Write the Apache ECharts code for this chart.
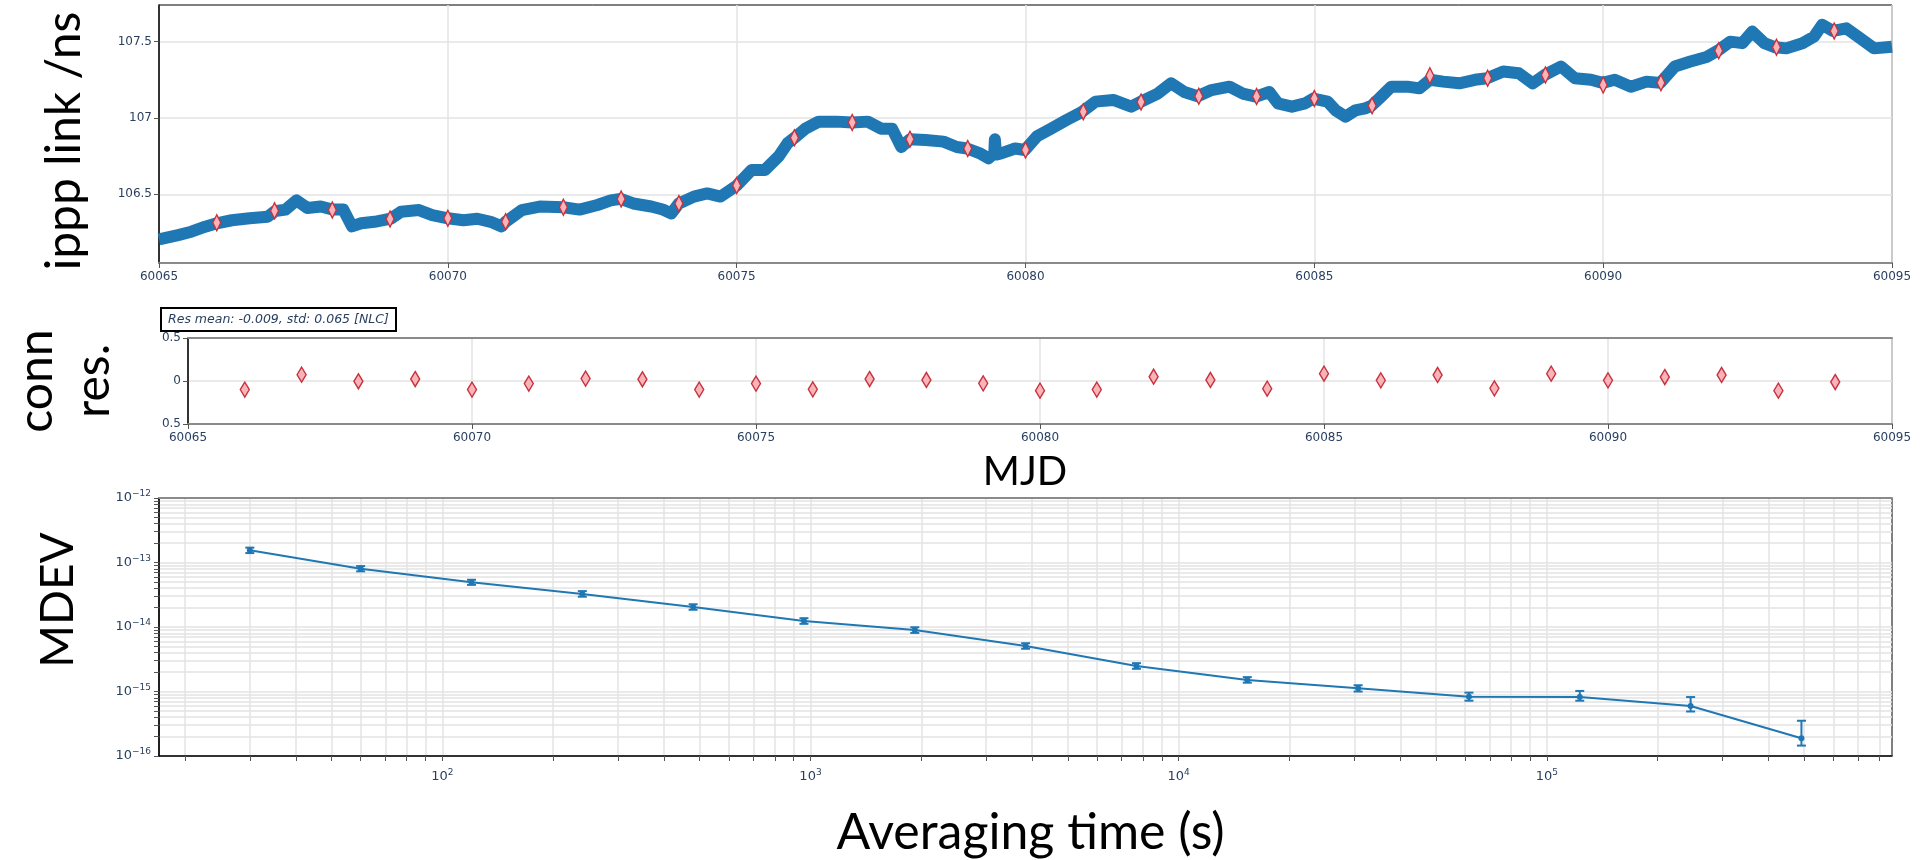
<!DOCTYPE html>
<html>
<head>
<meta charset="utf-8">
<script src="https://cdn.jsdelivr.net/npm/echarts@6/dist/echarts.min.js"></script>
<style>
html,body{margin:0;padding:0;background:#fff;}
#chart{width:1926px;height:860px;}
</style>
</head>
<body>
<div id="chart"></div>
<script>
// ---- link delay trace (MJD, ns) ----
const linkMjd = [60065.00,60065.33,60065.56,60065.80,60066.00,60066.26,60066.57,60066.88,60067.01,60067.19,60067.38,60067.57,60067.80,60068.00,60068.19,60068.34,60068.50,60068.73,60069.01,60069.19,60069.50,60069.73,60070.00,60070.27,60070.51,60070.74,60070.93,60071.00,60071.28,60071.59,60072.00,60072.28,60072.59,60072.82,60072.99,60073.21,60073.52,60073.72,60073.87,60074.00,60074.26,60074.49,60074.72,60075.00,60075.26,60075.49,60075.73,60075.88,60076.00,60076.19,60076.42,60076.73,60077.00,60077.27,60077.50,60077.69,60077.85,60078.00,60078.27,60078.58,60078.81,60078.99,60079.20,60079.36,60079.46,60079.47,60079.49,60079.59,60079.82,60079.99,60080.20,60080.44,60080.71,60080.98,60081.21,60081.52,60081.83,60081.99,60082.29,60082.52,60082.75,60082.98,60083.22,60083.53,60083.76,60083.99,60084.22,60084.37,60084.61,60084.84,60084.98,60085.23,60085.37,60085.54,60085.71,60085.88,60085.99,60086.13,60086.33,60086.61,60086.82,60087.00,60087.23,60087.51,60087.78,60087.99,60088.27,60088.54,60088.78,60088.99,60089.27,60089.51,60089.79,60089.99,60090.20,60090.48,60090.75,60090.99,60091.24,60091.51,60091.79,60091.98,60092.20,60092.41,60092.58,60092.79,60092.98,60093.17,60093.45,60093.65,60093.79,60093.98,60094.21,60094.41,60094.69,60095.00];
const linkNs = [106.205,106.233,106.255,106.288,106.31,106.33,106.343,106.353,106.39,106.40,106.46,106.41,106.42,106.40,106.40,106.29,106.31,106.32,106.34,106.386,106.397,106.364,106.343,106.33,106.34,106.32,106.29,106.32,106.397,106.42,106.415,106.40,106.43,106.46,106.47,106.44,106.42,106.40,106.375,106.44,106.485,106.506,106.485,106.557,106.66,106.66,106.75,106.834,106.87,106.93,106.976,106.976,106.97,106.976,106.93,106.93,106.81,106.86,106.856,106.845,106.81,106.80,106.77,106.736,106.77,106.86,106.76,106.77,106.80,106.79,106.88,106.93,106.987,107.04,107.107,107.118,107.074,107.105,107.16,107.227,107.17,107.142,107.183,107.205,107.16,107.14,107.17,107.096,107.074,107.096,107.127,107.107,107.05,107.009,107.05,107.063,107.08,107.13,107.205,107.205,107.194,107.25,107.238,107.227,107.25,107.26,107.304,107.293,107.227,107.282,107.337,107.26,107.25,107.23,107.25,107.205,107.238,107.23,107.337,107.37,107.40,107.44,107.50,107.49,107.566,107.49,107.463,107.456,107.49,107.533,107.61,107.57,107.587,107.533,107.456,107.467];

// ---- daily connection points and residuals ----
const connMjd = [60066,60067,60068,60069,60070,60071,60072,60073,60074,60075,60076,60077,60078,60079,60080,60081,60082,60083,60084,60085,60086,60087,60088,60089,60090,60091,60092,60093,60094];
const connNs = [106.314,106.393,106.397,106.338,106.343,106.32,106.415,106.47,106.44,106.557,106.87,106.97,106.86,106.80,106.79,107.04,107.105,107.142,107.14,107.127,107.08,107.277,107.26,107.282,107.216,107.23,107.44,107.463,107.57];
const connRes = [-0.10,0.074,-0.003,0.023,-0.10,-0.03,0.028,0.02,-0.10,-0.03,-0.097,0.023,0.012,-0.027,-0.112,-0.10,0.05,0.012,-0.089,0.085,0.008,0.07,-0.085,0.085,0.008,0.046,0.07,-0.112,-0.012];
const resNote = 'Res mean: -0.009, std: 0.065 [NLC]';

// ---- MDEV ----
const tau = [30,60,120,240,480,960,1920,3840,7680,15360,30720,61440,122880,245760,491520];
const mdev = [1.55e-13,8.0e-14,4.93e-14,3.25e-14,2.04e-14,1.24e-14,8.97e-15,5.07e-15,2.48e-15,1.51e-15,1.12e-15,8.3e-16,8.2e-16,5.96e-16,1.88e-16];
const mdevLo = [1.40e-13,7.3e-14,4.5e-14,2.95e-14,1.85e-14,1.12e-14,8.1e-15,4.6e-15,2.25e-15,1.37e-15,1.0e-15,7.2e-16,7.2e-16,4.9e-16,1.45e-16];
const mdevHi = [1.70e-13,8.8e-14,5.4e-14,3.6e-14,2.25e-14,1.37e-14,9.9e-15,5.6e-15,2.75e-15,1.67e-15,1.25e-15,9.6e-16,1.02e-15,8.2e-16,3.52e-16];

// ---- axis ranges / ticks ----
const mjdMin = 60065, mjdMax = 60095, mjdStep = 5;
const nsMin = 106.05, nsMax = 107.74;
const nsTicks = [106.5, 107, 107.5];
const resTicks = [-0.5, 0, 0.5];
const tauMin = 17, tauMax = 866000;
const mdevMin = 1e-16, mdevMax = 1e-12;

function logMinorTicks(lo, hi) {
  const out = [];
  for (let k = Math.floor(Math.log10(lo)); k <= Math.ceil(Math.log10(hi)); k++) {
    for (let m = 1; m <= 9; m++) {
      const v = m * Math.pow(10, k);
      if (v >= lo && v <= hi) out.push(Math.log10(v));
    }
  }
  return out;
}
const tauGrid = logMinorTicks(tauMin, tauMax);
const mdevGrid = logMinorTicks(mdevMin, mdevMax);

const tickColor = '#2a3f5f';
const gridColor = '#e3e3e3';
const lblFont = 'DejaVu Sans';
const bigFont = 'Lato';

function powLabel(v) {
  const l = Math.log10(v);
  const e = Math.round(l);
  if (Math.abs(l - e) > 1e-6) return '';
  return '10{s|' + (e < 0 ? '\u2212' + (-e) : e) + '}';
}
const powRich = {
  s: { fontSize: 9, fontFamily: lblFont, color: tickColor, verticalAlign: 'bottom', padding: [0, 0, 8, 0] }
};

const chart = echarts.init(document.getElementById('chart'), null, { renderer: 'canvas' });

const baseX = (gi) => ({
  type: 'value', gridIndex: gi, min: mjdMin, max: mjdMax, interval: mjdStep,
  axisLine: { onZero: false, lineStyle: { color: '#8a8a8a', width: 2 } },
  axisTick: { show: true, length: 5, lineStyle: { color: '#555' } },
  axisLabel: { color: tickColor, fontFamily: lblFont, fontSize: 12, margin: 8, formatter: v => String(v) },
  splitLine: { show: true, lineStyle: { color: gridColor, width: 1.5 } }
});
const borderX = (gi, pos, color) => ({
  type: 'value', gridIndex: gi, position: pos, min: 0, max: 1,
  axisLine: { onZero: false, lineStyle: { color: color, width: 2 } },
  axisTick: { show: false }, axisLabel: { show: false }, splitLine: { show: false }
});

const option = {
  animation: false,
  backgroundColor: '#fff',
  title: {
    text: resNote, left: 161, top: 308,
    padding: [5, 7], borderColor: '#000', borderWidth: 2,
    textStyle: { fontStyle: 'italic', fontWeight: 'normal', fontSize: 12.5, color: tickColor, fontFamily: lblFont }
  },
  grid: [
    { left: 159, top: 5, width: 1733, height: 258, show: true, borderColor: '#000', borderWidth: 1 },
    { left: 159, top: 338, width: 1733, height: 86, show: true, borderColor: '#000', borderWidth: 1 },
    { left: 159, top: 498, width: 1733, height: 258, show: true, borderColor: '#000', borderWidth: 1 }
  ],
  xAxis: [
    baseX(0),
    Object.assign(baseX(1), {
      name: 'MJD', nameLocation: 'middle', nameGap: 28,
      nameTextStyle: { fontFamily: bigFont, fontSize: 40, color: '#000', padding: [0, 30, 0, 0] }
    }),
    borderX(1, 'top', '#8a8a8a'),
    {
      type: 'log', gridIndex: 2, min: tauMin, max: tauMax, logBase: 10,
      axisLine: { onZero: false, lineStyle: { color: '#000', width: 1.5 } },
      axisTick: { show: false },
      axisLabel: { color: tickColor, fontFamily: lblFont, fontSize: 13, margin: 12, formatter: powLabel, rich: powRich,
                   showMinLabel: false, showMaxLabel: false },
      splitLine: { show: false },
      name: 'Averaging time (s)', nameLocation: 'middle', nameGap: 52,
      nameTextStyle: { fontFamily: bigFont, fontSize: 50, color: '#000', padding: [0, 0, 0, 10] }
    },
    {
      type: 'value', gridIndex: 2, position: 'bottom', min: Math.log10(tauMin), max: Math.log10(tauMax),
      axisLine: { show: false, onZero: false },
      axisTick: { show: true, length: 5, lineStyle: { color: '#555' }, customValues: tauGrid },
      axisLabel: { show: false },
      splitLine: { show: true, lineStyle: { color: gridColor, width: 1.5 } }
    },
    borderX(2, 'top', '#8a8a8a')
  ],
  yAxis: [
    {
      type: 'value', gridIndex: 0, min: nsMin, max: nsMax,
      axisLine: { show: true, onZero: false, lineStyle: { color: '#000', width: 1.5 } },
      axisTick: { show: true, length: 5, lineStyle: { color: '#555' }, customValues: nsTicks },
      axisLabel: { color: tickColor, fontFamily: lblFont, fontSize: 12, margin: 7, customValues: nsTicks,
                   formatter: v => String(v) },
      splitLine: { show: true, lineStyle: { color: gridColor, width: 1.5 } },
      name: 'ippp link /ns', nameLocation: 'middle', nameGap: 70, nameRotate: 90,
      nameTextStyle: { fontFamily: bigFont, fontSize: 48, color: '#000', padding: [0, 14, 0, 0] }
    },
    {
      type: 'value', gridIndex: 1, min: -0.5, max: 0.5,
      axisLine: { show: true, onZero: false, lineStyle: { color: '#000', width: 1.5 } },
      axisTick: { show: true, length: 5, lineStyle: { color: '#555' }, customValues: resTicks },
      axisLabel: { color: tickColor, fontFamily: lblFont, fontSize: 12, margin: 7, customValues: resTicks,
                   formatter: v => String(Math.abs(v)) },
      splitLine: { show: true, lineStyle: { color: gridColor, width: 1.5 } },
      name: 'conn\nres.', nameLocation: 'middle', nameGap: 66, nameRotate: 90,
      nameTextStyle: { fontFamily: bigFont, fontSize: 48, lineHeight: 57, color: '#000' }
    },
    {
      type: 'log', gridIndex: 2, min: mdevMin, max: mdevMax, logBase: 10,
      axisLine: { show: true, onZero: false, lineStyle: { color: '#000', width: 1.5 } },
      axisTick: { show: false },
      axisLabel: { color: tickColor, fontFamily: lblFont, fontSize: 13, margin: 8, formatter: powLabel, rich: powRich },
      splitLine: { show: false },
      name: 'MDEV', nameLocation: 'middle', nameGap: 78, nameRotate: 90,
      nameTextStyle: { fontFamily: bigFont, fontSize: 46, color: '#000', padding: [0, 0, 0, 54] }
    },
    {
      type: 'value', gridIndex: 2, position: 'left', min: Math.log10(mdevMin), max: Math.log10(mdevMax),
      axisLine: { show: false, onZero: false },
      axisTick: { show: true, length: 5, lineStyle: { color: '#555' }, customValues: mdevGrid },
      axisLabel: { show: false },
      splitLine: { show: true, lineStyle: { color: gridColor, width: 1.5 } }
    }
  ],
  series: [
    {
      type: 'line', xAxisIndex: 0, yAxisIndex: 0, z: 2,
      data: linkMjd.map((x, i) => [x, linkNs[i]]),
      showSymbol: false, symbol: 'none',
      lineStyle: { color: '#1f77b4', width: 12, join: 'round', cap: 'butt' }
    },
    {
      type: 'scatter', xAxisIndex: 0, yAxisIndex: 0, z: 4,
      data: connMjd.map((x, i) => [x, connNs[i]]),
      symbol: 'diamond', symbolSize: [8, 16],
      itemStyle: { color: '#f8b4ba', borderColor: '#c8323c', borderWidth: 1.5, opacity: 1 }
    },
    {
      type: 'scatter', xAxisIndex: 1, yAxisIndex: 1, z: 4,
      data: connMjd.map((x, i) => [x, connRes[i]]),
      symbol: 'diamond', symbolSize: [9, 15],
      itemStyle: { color: '#f8b4ba', borderColor: '#c8323c', borderWidth: 1.5, opacity: 1 }
    },
    {
      type: 'custom', xAxisIndex: 3, yAxisIndex: 2, z: 5,
      data: tau.map((t, i) => [t, mdevLo[i], mdevHi[i]]),
      encode: { x: 0, y: [1, 2] },
      renderItem: function (params, api) {
        const lo = api.coord([api.value(0), api.value(1)]);
        const hi = api.coord([api.value(0), api.value(2)]);
        const w = 4.5;
        const st = { stroke: '#1f77b4', lineWidth: 2 };
        return {
          type: 'group',
          children: [
            { type: 'line', shape: { x1: lo[0], y1: lo[1], x2: hi[0], y2: hi[1] }, style: st },
            { type: 'line', shape: { x1: lo[0] - w, y1: lo[1], x2: lo[0] + w, y2: lo[1] }, style: st },
            { type: 'line', shape: { x1: hi[0] - w, y1: hi[1], x2: hi[0] + w, y2: hi[1] }, style: st }
          ]
        };
      }
    },
    {
      type: 'line', xAxisIndex: 3, yAxisIndex: 2, z: 4,
      data: tau.map((t, i) => [t, mdev[i]]),
      symbol: 'circle', symbolSize: 6, showSymbol: true,
      itemStyle: { color: '#1f77b4' },
      lineStyle: { color: '#1f77b4', width: 2 }
    }
  ]
};
chart.setOption(option);
</script>
</body>
</html>
